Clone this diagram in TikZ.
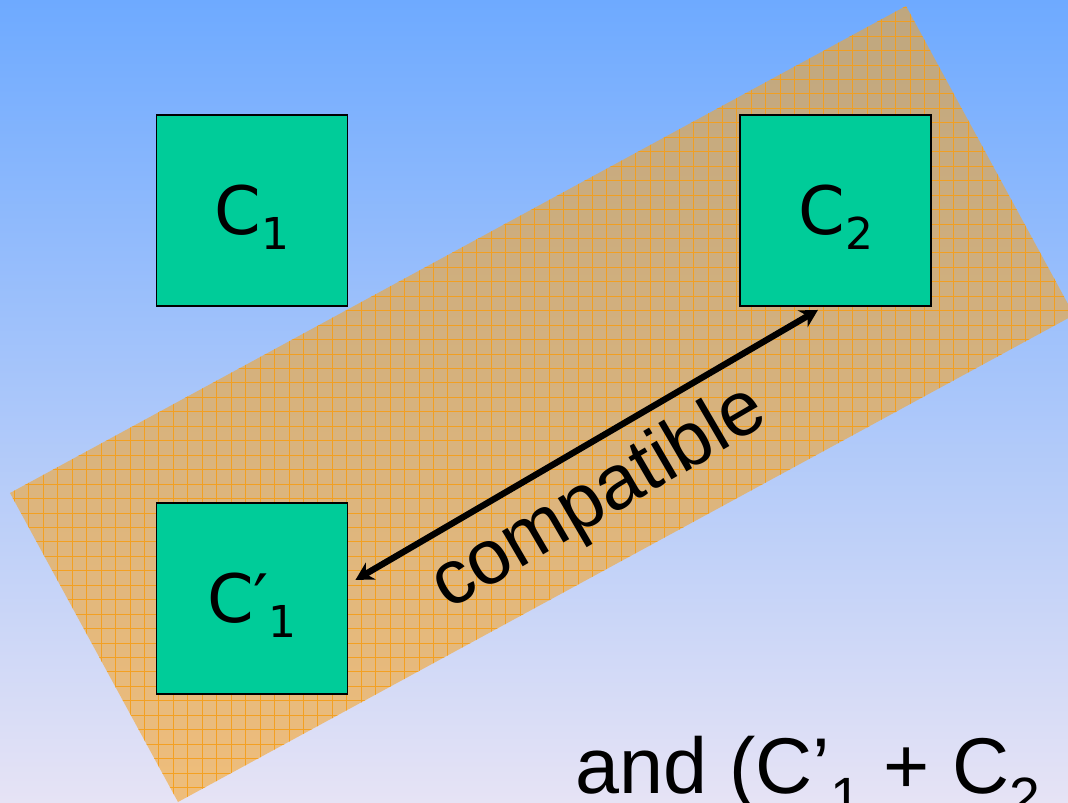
\documentclass[tikz,border=0pt]{standalone}
\usepackage{fontspec}
\usepackage{tikz}
\usetikzlibrary{positioning, arrows.meta, calc}
\newfontfamily\boxfont{DejaVu Sans}
\newfontfamily\slidefont{Liberation Sans}
\definecolor{bgTop}{RGB}{110,170,255}
\definecolor{bgBottom}{RGB}{230,227,245}
\definecolor{compGreen}{RGB}{0,204,153}
\definecolor{bandOrange}{RGB}{245,165,43}
\definecolor{gridOrange}{RGB}{245,158,25}
\newcommand{\lowsub}[1]{\raisebox{-8.5pt}{\fontsize{25}{25}\selectfont #1}}
\newcommand{\boxlabel}[1]{\raisebox{-4pt}[\height][\depth]{#1}}

\begin{document}
\begin{tikzpicture}[
  comp/.style={draw=black, line width=1.1pt, fill=compGreen, minimum size=3.82cm,
    inner sep=0pt, font=\boxfont\fontsize{38}{38}\selectfont},
  band/.style={fill=bandOrange, fill opacity=0.6},
  gridline/.style={draw=gridOrange, line width=0.55pt, opacity=0.9},
]
  \useasboundingbox (0,0) rectangle (21.36,16.04);
  \clip (0,0) rectangle (21.36,16.04);
  \shade[top color=bgTop, bottom color=bgBottom] (0,0) rectangle (21.36,16.04);

  % tilted band
  \coordinate (b1) at (0.2,6.18);
  \coordinate (b2) at (18.12,15.92);
  \coordinate (b3) at (21.48,9.74);
  \coordinate (b4) at (3.56,0);
  \fill[band] (b1) -- (b2) -- (b3) -- (b4) -- cycle;
  \begin{scope}
    \clip (b1) -- (b2) -- (b3) -- (b4) -- cycle;
    \draw[gridline] (0,0) grid[step=0.289] (21.4,16.1);
  \end{scope}

  % components
  \node[comp] (c1) at (5.04,11.83) {\boxlabel{C\lowsub{1}}};
  \node[comp, right=7.82cm of c1] (c2) {\boxlabel{C\lowsub{2}}};
  \node[comp, below=3.9cm of c1] (c1p) {\boxlabel{C′\lowsub{1}}};

  \draw[{Stealth[length=10pt,width=11pt]}-{Stealth[length=10pt,width=11pt]}, line width=3.6pt]
    ($(c1p.east)+(0.14,0.37)$) -- ($(c2.south)+(-0.36,-0.06)$)
    node[pos=0.47, sloped, below=0.28cm, inner sep=0pt,
      font=\slidefont\fontsize{44}{44}\selectfont] (lbl) {compatible};

  \node[anchor=base west, inner sep=0pt, font=\slidefont\fontsize{45}{45}\selectfont]
    (tail) at (11.5,0.18) {and (C’\textsubscript{1} + C\textsubscript{2}};
\end{tikzpicture}
\end{document}
